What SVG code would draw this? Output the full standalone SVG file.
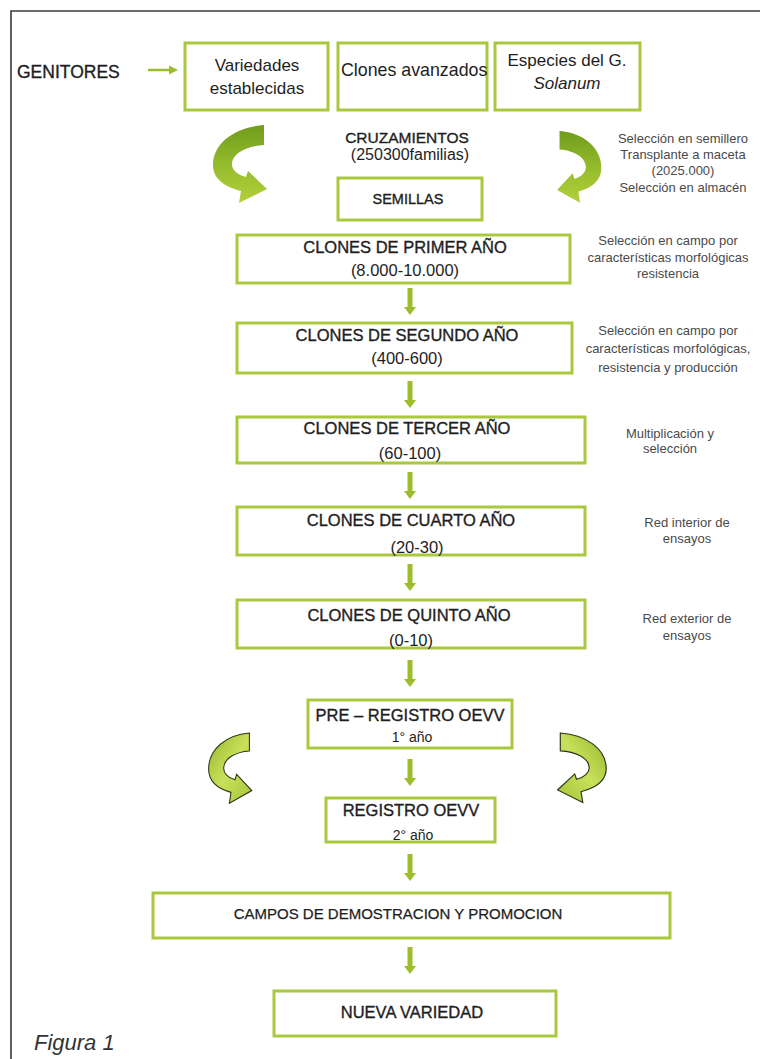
<svg xmlns="http://www.w3.org/2000/svg" width="760" height="1059" viewBox="0 0 760 1059">
<defs>
<style>
.box{fill:#fff;stroke:#a9c83c;stroke-width:3}
.t{font-family:"Liberation Sans",Arial,sans-serif;fill:#1e1e1e;text-anchor:middle}
.b{font-size:16.5px;stroke:#1e1e1e;stroke-width:0.35}
.s{font-size:13px;fill:#4a4a4a}
.ar{fill:#9dbd2a}
.frame{fill:none;stroke:#3a3a3a;stroke-width:1.6}
</style>
<linearGradient id="gTop" x1="0" y1="0" x2="0" y2="1">
<stop offset="0" stop-color="#6f9c1c"/>
<stop offset="0.5" stop-color="#94bb2c"/>
<stop offset="1" stop-color="#b3d03a"/>
</linearGradient>
<linearGradient id="gLow" x1="0" y1="0" x2="1" y2="1">
<stop offset="0" stop-color="#94b62e"/>
<stop offset="0.5" stop-color="#c9e05a"/>
<stop offset="1" stop-color="#a5c53a"/>
</linearGradient>
<path id="curv" d="M 53 0 C 24 2 2 18 2 40 C 2 54 14 62 30 66 L 28 78 L 56 64 L 37 46 L 35 52 C 26 50 20 44 21 38 C 22 28 36 21 53 20 Z"/>
<g id="dar">
<rect x="-2.5" y="0" width="5" height="20"/>
<polygon points="-6,19 6,19 0,27"/>
</g>
</defs>
<rect width="760" height="1059" fill="#fff"/>
<path class="frame" d="M 11 1059 V 11 H 760"/>

<g id="genitores">
<text class="t" x="17" y="78" style="font-size:17.5px;text-anchor:start;stroke:#1e1e1e;stroke-width:0.35">GENITORES</text>
</g>

<g id="connectors">
<line x1="148" y1="70" x2="171" y2="70" stroke="#9dbd2a" stroke-width="2.5"/>
<polygon class="ar" points="169,65.5 178,70 169,74.5"/>
<use href="#dar" class="ar" x="410" y="288"/>
<use href="#dar" class="ar" x="410" y="381"/>
<use href="#dar" class="ar" x="410" y="472"/>
<use href="#dar" class="ar" x="410" y="564"/>
<use href="#dar" class="ar" x="410" y="660"/>
<use href="#dar" class="ar" x="410" y="759"/>
<use href="#dar" class="ar" x="410" y="854"/>
<use href="#dar" class="ar" x="410" y="947"/>
<use href="#curv" fill="url(#gTop)" transform="translate(211,125)"/>
<use href="#curv" fill="url(#gTop)" transform="translate(603,131) scale(-0.82,0.92)"/>
<use href="#curv" fill="url(#gLow)" stroke="#2e3318" stroke-width="1.3" vector-effect="non-scaling-stroke" transform="translate(207,733) scale(0.8,0.9)"/>
<use href="#curv" fill="url(#gLow)" stroke="#2e3318" stroke-width="1.3" vector-effect="non-scaling-stroke" transform="translate(608,733) scale(-0.9,0.89)"/>
</g>

<g id="variedades">
<rect class="box" x="185" y="43" width="143" height="67"/>
<text class="t" x="257" y="71" style="font-size:17px">Variedades</text>
<text class="t" x="257" y="94" style="font-size:17px">establecidas</text>
</g>
<g id="clones-avanzados">
<rect class="box" x="338" y="43" width="149" height="67"/>
<text class="t" x="341" y="76" style="font-size:17.8px;text-anchor:start">Clones avanzados</text>
</g>
<g id="especies">
<rect class="box" x="495" y="43" width="145" height="67"/>
<text class="t" x="567" y="66" style="font-size:17px">Especies del G.</text>
<text class="t" x="567" y="89" style="font-size:17px;font-style:italic">Solanum</text>
</g>

<g id="cruzamientos">
<text class="t b" x="407" y="142.5" style="font-size:15.5px">CRUZAMIENTOS</text>
<text class="t" x="410" y="160" style="font-size:16px">(250300familias)</text>
</g>
<g id="nota-semillas">
<text class="t s" x="683" y="142.5">Selección en semillero</text>
<text class="t s" x="683" y="158.5">Transplante a maceta</text>
<text class="t s" x="683" y="174.5">(2025.000)</text>
<text class="t s" x="683" y="191.5">Selección en almacén</text>
</g>

<g id="semillas">
<rect class="box" x="338" y="178" width="144" height="42"/>
<text class="t b" x="408" y="204" style="font-size:14.5px">SEMILLAS</text>
</g>

<g id="primer">
<rect class="box" x="237" y="235" width="333" height="48"/>
<text class="t b" x="405" y="253">CLONES DE PRIMER AÑO</text>
<text class="t" x="405" y="276" style="font-size:16.5px">(8.000-10.000)</text>
</g>
<g id="nota-primer">
<text class="t s" x="668" y="244.5">Selección en campo por</text>
<text class="t s" x="668" y="261.5">características morfológicas</text>
<text class="t s" x="668" y="277.5">resistencia</text>
</g>

<g id="segundo">
<rect class="box" x="237" y="323" width="335" height="50"/>
<text class="t b" x="407" y="341">CLONES DE SEGUNDO AÑO</text>
<text class="t" x="407" y="364" style="font-size:16.5px">(400-600)</text>
</g>
<g id="nota-segundo">
<text class="t s" x="668" y="334.5">Selección en campo por</text>
<text class="t s" x="668" y="353">características morfológicas,</text>
<text class="t s" x="668" y="371.5">resistencia y producción</text>
</g>

<g id="tercer">
<rect class="box" x="237" y="417" width="348" height="46"/>
<text class="t b" x="407" y="434">CLONES DE TERCER AÑO</text>
<text class="t" x="410" y="459" style="font-size:16.5px">(60-100)</text>
</g>
<g id="nota-tercer">
<text class="t s" x="670" y="437.5">Multiplicación y</text>
<text class="t s" x="670" y="452.5">selección</text>
</g>

<g id="cuarto">
<rect class="box" x="237" y="507" width="348" height="48"/>
<text class="t b" x="411" y="526">CLONES DE CUARTO  AÑO</text>
<text class="t" x="417" y="553" style="font-size:16.5px">(20-30)</text>
</g>
<g id="nota-cuarto">
<text class="t s" x="687" y="526.5">Red interior de</text>
<text class="t s" x="687" y="542.5">ensayos</text>
</g>

<g id="quinto">
<rect class="box" x="237" y="600" width="348" height="48"/>
<text class="t b" x="409" y="621">CLONES DE QUINTO AÑO</text>
<text class="t" x="411" y="646" style="font-size:16.5px">(0-10)</text>
</g>
<g id="nota-quinto">
<text class="t s" x="687" y="622.5">Red exterior de</text>
<text class="t s" x="687" y="639.5">ensayos</text>
</g>

<g id="pre-registro">
<rect class="box" x="308" y="700" width="204" height="48"/>
<text class="t b" x="410" y="721">PRE  – REGISTRO  OEVV</text>
<text class="t" x="412" y="742" style="font-size:14px">1° año</text>
</g>

<g id="registro">
<rect class="box" x="326" y="798" width="169" height="44"/>
<text class="t b" x="411" y="816">REGISTRO  OEVV</text>
<text class="t" x="413" y="840" style="font-size:14px">2° año</text>
</g>

<g id="campos">
<rect class="box" x="153" y="893" width="517" height="45"/>
<text class="t" x="398" y="918.5" style="font-size:15px;stroke:#1e1e1e;stroke-width:0.25">CAMPOS DE DEMOSTRACION Y PROMOCION</text>
</g>

<g id="nueva-variedad">
<rect class="box" x="274" y="991" width="282" height="45"/>
<text class="t b" x="412" y="1017.5">NUEVA VARIEDAD</text>
</g>

<text class="t" x="34" y="1050" style="font-size:22px;font-style:italic;text-anchor:start;fill:#333">Figura 1</text>
</svg>
